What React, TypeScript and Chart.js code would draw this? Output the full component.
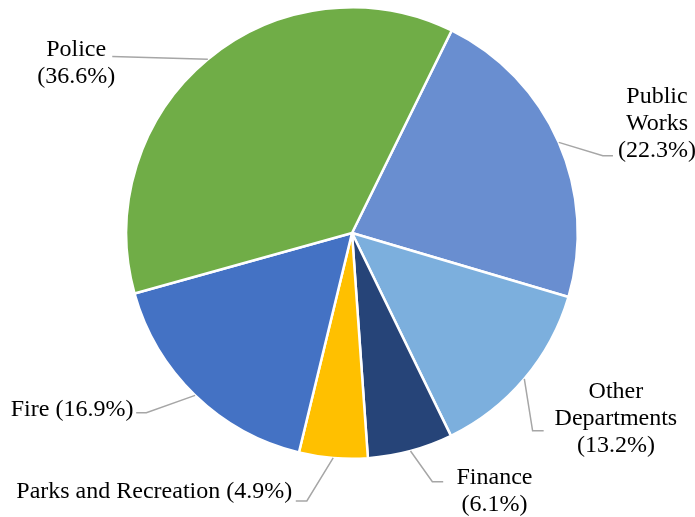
import React, { useEffect, useRef } from 'react';
import { Chart, registerables } from 'chart.js';

Chart.register(...registerables);

const categories = ['Public Works', 'Other Departments', 'Finance', 'Parks and Recreation', 'Fire', 'Police'];
const shares = [22.3, 13.2, 6.1, 4.9, 16.9, 36.6];
const colors = ['#698ED0', '#7CAFDD', '#264478', '#FFC000', '#4472C4', '#70AD47'];
// how each label's name is broken into lines, and whether the share follows on the last line
const labelLines = [['Public', 'Works'], ['Other', 'Departments'], ['Finance'], ['Parks and Recreation'], ['Fire'], ['Police']];
const shareInline = [false, false, false, true, true, false];
// label placement in radius units relative to the pie centre: text block centre, leader elbow, leader end
const labelPlace = [
  { tx: 1.351, ty: -0.484, bx: 1.111, by: -0.342, ex: 1.156, ey: -0.342 },
  { tx: 1.169, ty: 0.822, bx: 0.8, by: 0.876, ex: 0.849, ey: 0.876 },
  { tx: 0.631, ty: 1.142, bx: 0.356, by: 1.102, ex: 0.404, ey: 1.102 },
  { tx: -0.876, ty: 1.147, bx: -0.2, by: 1.187, ex: -0.249, ey: 1.187 },
  { tx: -1.24, ty: 0.782, bx: -0.911, by: 0.796, ex: -0.956, ey: 0.796 },
  { tx: -1.222, ty: -0.753, bx: -1.062, by: -0.782, ex: -1.062, ey: -0.782 },
];

const FONT = '24px "Liberation Serif", "Times New Roman", serif';
const LINE_H = 27;

const labelPlugin = {
  id: 'pieLabels',
  afterDatasetsDraw(chart: any) {
    const { ctx } = chart;
    const meta = chart.getDatasetMeta(0);
    ctx.save();
    meta.data.forEach((arc: any, i: number) => {
      const { x, y, outerRadius, startAngle, endAngle } = arc.getProps(['x', 'y', 'outerRadius', 'startAngle', 'endAngle'], true);
      const mid = (startAngle + endAngle) / 2;
      const r = outerRadius;
      const p = labelPlace[i];
      const sx = x + Math.cos(mid) * r;
      const sy = y + Math.sin(mid) * r;
      ctx.strokeStyle = '#A6A6A6';
      ctx.lineWidth = 1.5;
      ctx.beginPath();
      ctx.moveTo(sx, sy);
      ctx.lineTo(x + p.bx * r, y + p.by * r);
      ctx.lineTo(x + p.ex * r, y + p.ey * r);
      ctx.stroke();

      const pct = '(' + shares[i].toFixed(1) + '%)';
      const lines = labelLines[i].slice();
      if (shareInline[i]) lines[lines.length - 1] += ' ' + pct;
      else lines.push(pct);
      ctx.fillStyle = '#000000';
      ctx.font = FONT;
      ctx.textAlign = 'center';
      ctx.textBaseline = 'middle';
      const cx = x + p.tx * r;
      const cy = y + p.ty * r;
      const top = cy - ((lines.length - 1) * LINE_H) / 2;
      lines.forEach((ln, k) => ctx.fillText(ln, cx, top + k * LINE_H));
    });
    ctx.restore();
  },
};

export default function App() {
  const ref = useRef<HTMLCanvasElement>(null);
  useEffect(() => {
    document.body.style.margin = '0';
    const chart = new Chart(ref.current as HTMLCanvasElement, {
      type: 'pie',
      data: {
        labels: categories,
        datasets: [
          {
            data: shares,
            backgroundColor: colors,
            borderColor: '#FFFFFF',
            borderWidth: 2.5,
          },
        ],
      },
      options: {
        responsive: false,
        animation: false,
        rotation: 26.2,
        layout: { padding: { left: 125, right: 116, top: 6, bottom: 57 } },
        plugins: { legend: { display: false }, tooltip: { enabled: false } },
      },
      plugins: [labelPlugin],
    });
    return () => chart.destroy();
  }, []);
  return (
    <div style={{ width: 695, height: 517, background: '#fff' }}>
      <canvas ref={ref} width={695} height={517} />
    </div>
  );
}
